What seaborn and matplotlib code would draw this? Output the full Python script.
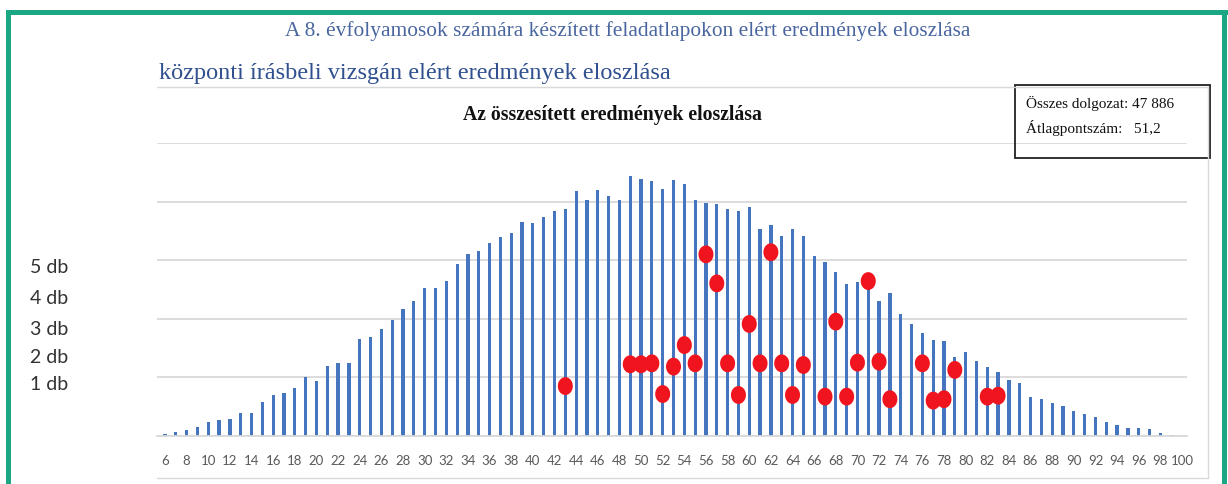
import numpy as np
import pandas as pd
import matplotlib
matplotlib.use("Agg")
import matplotlib.pyplot as plt
from matplotlib.path import Path
from matplotlib.patches import Rectangle
from matplotlib.lines import Line2D
from matplotlib.transforms import blended_transform_factory
import seaborn as sns

# ---------------- data ----------------
scores = list(range(6, 101))
counts = [8, 18, 25, 40, 60, 68, 73, 100, 99, 146,
          173, 185, 203, 250, 235, 298, 313, 313, 413, 423,
          455, 493, 540, 578, 630, 633, 663, 735, 778, 790,
          823, 850, 865, 913, 910, 933, 960, 970, 1045, 1008,
          1050, 1023, 1005, 1108, 1098, 1090, 1053, 1093, 1075, 1008,
          993, 988, 970, 960, 975, 885, 900, 855, 883, 853,
          768, 743, 700, 650, 655, 638, 575, 608, 520, 478,
          440, 410, 406, 338, 358, 320, 295, 275, 238, 228,
          165, 158, 140, 128, 108, 95, 80, 58, 48, 35,
          33, 28, 14, 4, 1]

dot_scores = [43, 49, 50, 51, 52, 53, 54, 55, 56, 57, 58, 59, 60, 61, 62,
              63, 64, 65, 67, 68, 69, 70, 71, 72, 73, 76, 77, 78, 79, 82, 83]
dot_heights = [213, 306, 306, 310, 179, 296, 388, 310, 775, 651, 310, 175, 478, 310, 784,
               310, 175, 303, 168, 488, 168, 313, 661, 317, 157, 310, 151, 157, 282, 168, 172]

db_labels = ["5 db", "4 db", "3 db", "2 db", "1 db"]
db_label_levels = [718, 588, 453, 333, 218]

xtick_values = list(range(6, 101, 2))

title_top = "A 8. évfolyamosok számára készített feladatlapokon elért eredmények eloszlása"
title_main = "központi írásbeli vizsgán elért eredmények eloszlása"
chart_title = "Az összesített eredmények eloszlása"
info_lines = ["Összes dolgozat: 47 886", "Átlagpontszám:   51,2"]

# ---------------- figure ----------------
W, H = 1228, 484
sns.set_theme(style="white")
plt.rcParams['font.family'] = ['Lato', 'DejaVu Sans']

fig = plt.figure(figsize=(W / 100, H / 100), dpi=100)
fig.patch.set_facecolor("white")

def fx(px):
    return px / W

def fy(py):
    return 1 - py / H

ax_left, ax_right = 157, 1187
ax_top, ax_bottom = 143, 436
ax = fig.add_axes([fx(ax_left), fy(ax_bottom), (ax_right - ax_left) / W, (ax_bottom - ax_top) / H])
ax.set_facecolor("none")

df = pd.DataFrame({"score": scores, "count": counts})
sns.barplot(data=df, x="score", y="count", native_scale=True, width=0.3,
            color="#4675c0", saturation=1, ax=ax, zorder=2, linewidth=0)

# ellipse-shaped marker
t = np.linspace(0, 2 * np.pi, 80)
ellipse = Path(np.column_stack([0.84 * np.cos(t), np.sin(t)]), closed=True)
ddf = pd.DataFrame({"score": dot_scores, "h": dot_heights})
sns.scatterplot(data=ddf, x="score", y="h", marker=ellipse, s=165, color="#f0141e",
                edgecolor="none", linewidth=0, ax=ax, zorder=4)

ax.set_xlim(5.26, 100.46)
ax.set_ylim(0, 1250)
ax.set_yticks([0, 250, 500, 750, 1000, 1250])
ax.yaxis.grid(True, color="#d9d9d9", linewidth=1.3, zorder=0)
ax.set_axisbelow(True)
ax.set_yticklabels([])
ax.tick_params(axis="y", length=0)
ax.set_xticks(xtick_values)
ax.set_xticklabels([str(v) for v in xtick_values], color="#595959", fontsize=9.5)
ax.tick_params(axis="x", length=0, pad=14)
for s in ["top", "right", "left"]:
    ax.spines[s].set_visible(False)
ax.spines["bottom"].set_color("#d9d9d9")
ax.spines["bottom"].set_linewidth(1.3)
ax.set_xlabel("")
ax.set_ylabel("")

# left "db" labels
btr = blended_transform_factory(fig.transFigure, ax.transData)
for lab, lev in zip(db_labels, db_label_levels):
    ax.text(fx(30), lev, lab, transform=btr, ha="left", va="center", fontsize=14,
            color="#333333", clip_on=False)

# titles
serif = ['Liberation Serif', 'DejaVu Serif']
fig.text(fx(628), fy(31), title_top, ha="center", va="center", fontsize=15.4,
         color="#4a66a0", family=serif)
fig.text(fx(159), fy(73), title_main, ha="left", va="center", fontsize=17.5,
         color="#30508f", family=serif)
fig.text(fx(612), fy(115), chart_title, ha="center", va="center", fontsize=14.2,
         color="#111111", family=serif, fontweight="bold")

# info box
fig.add_artist(Rectangle((fx(1015), fy(158)), (1210 - 1015) / W, (158 - 85) / H,
                         transform=fig.transFigure, fill=False, edgecolor="#222222", linewidth=1.3))
fig.text(fx(1026), fy(103), info_lines[0], ha="left", va="center", fontsize=11,
         color="#111111", family=serif)
fig.text(fx(1026), fy(128), info_lines[1], ha="left", va="center", fontsize=11,
         color="#111111", family=serif)

# light chart frame
frame_c = "#d9d9d9"
fig.add_artist(Line2D([fx(157), fx(1208)], [fy(87), fy(87)], transform=fig.transFigure, color=frame_c, lw=1))
fig.add_artist(Line2D([fx(1208), fx(1208)], [fy(87), fy(478)], transform=fig.transFigure, color=frame_c, lw=1))
fig.add_artist(Line2D([fx(157), fx(1208)], [fy(478), fy(478)], transform=fig.transFigure, color=frame_c, lw=1))

# green border
green = "#1ba784"
fig.add_artist(Rectangle((fx(6), fy(15)), (1228 - 6) / W, 5 / H, transform=fig.transFigure,
                         facecolor=green, edgecolor="none"))
fig.add_artist(Rectangle((fx(6), 0), 5 / W, fy(10), transform=fig.transFigure,
                         facecolor=green, edgecolor="none"))
fig.add_artist(Rectangle((fx(1222), 0), 5 / W, fy(10), transform=fig.transFigure,
                         facecolor=green, edgecolor="none"))

fig.savefig("out.png", dpi=100, facecolor="white")
